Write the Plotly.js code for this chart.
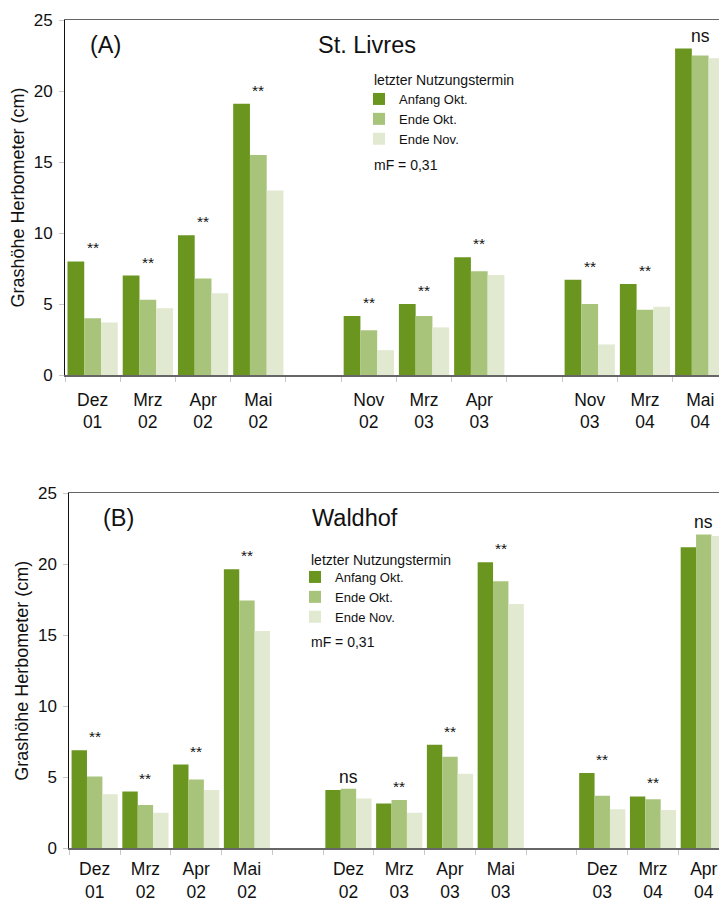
<!DOCTYPE html>
<html>
<head>
<meta charset="utf-8">
<script src="https://cdn.plot.ly/plotly-3.0.1.min.js"></script>
<style>html,body{margin:0;padding:0;background:#fff;}#chart{width:719px;height:903px;}</style>
</head>
<body>
<div id="chart"></div>
<script>
// ---- Data ----
const seriesNames = ["Anfang Okt.", "Ende Okt.", "Ende Nov."];

// Panel A: St. Livres (gap slots are blank strings)
const catsA = ["Dez<br>01", "Mrz<br>02", "Apr<br>02", "Mai<br>02", " ",
               "Nov<br>02", "Mrz<br>03", "Apr<br>03", "  ",
               "Nov<br>03", "Mrz<br>04", "Mai<br>04"];
const anfangOktA = [8.0, 7.0, 9.85, 19.1, null, 4.15, 5.0, 8.3, null, 6.7, 6.4, 23.0];
const endeOktA   = [4.0, 5.3, 6.8, 15.5, null, 3.15, 4.15, 7.3, null, 5.0, 4.6, 22.5];
const endeNovA   = [3.7, 4.7, 5.75, 13.0, null, 1.75, 3.35, 7.05, null, 2.15, 4.8, 22.3];
const sigA       = ["**", "**", "**", "**", "", "**", "**", "**", "", "**", "**", "ns"];

// Panel B: Waldhof
const catsB = ["Dez<br>01", "Mrz<br>02", "Apr<br>02", "Mai<br>02", " ",
               "Dez<br>02", "Mrz<br>03", "Apr<br>03", "Mai<br>03", "  ",
               "Dez<br>03", "Mrz<br>04", "Apr<br>04"];
const anfangOktB = [6.9, 4.0, 5.9, 19.65, null, 4.1, 3.15, 7.3, 20.15, null, 5.3, 3.65, 21.2];
const endeOktB   = [5.05, 3.05, 4.85, 17.45, null, 4.2, 3.4, 6.45, 18.8, null, 3.7, 3.45, 22.1];
const endeNovB   = [3.8, 2.5, 4.1, 15.3, null, 3.5, 2.5, 5.25, 17.2, null, 2.75, 2.7, 22.0];
const sigB       = ["**", "**", "**", "**", "", "ns", "**", "**", "**", "", "**", "**", "ns"];

const yTickVals = [0, 5, 10, 15, 20, 25];

// ---- Styling ----
const colors = ["#6A961F", "#A8C37A", "#E1E9D1"];
const FONT = "Liberation Sans, Arial, Helvetica, sans-serif";
const W = 719, H = 903;

function bars(cats, arrs, xa, ya, legendId) {
  return arrs.map((vals, i) => ({
    type: "bar", x: cats, y: vals, name: seriesNames[i],
    xaxis: xa, yaxis: ya, legend: legendId,
    marker: {color: colors[i], line: {width: 0}},
    hoverinfo: "x+y"
  }));
}

const traces = [
  ...bars(catsA, [anfangOktA, endeOktA, endeNovA], "x", "y", "legend"),
  ...bars(catsB, [anfangOktB, endeOktB, endeNovB], "x2", "y2", "legend2")
];

function sigAnnots(cats, arrs, sig, xref, yref) {
  const out = [];
  cats.forEach((c, i) => {
    if (!sig[i]) return;
    const top = Math.max(...arrs.map(a => a[i] || 0));
    const isNs = sig[i] === "ns";
    out.push({
      x: c, y: top, xref: xref, yref: yref, text: sig[i], showarrow: false,
      yanchor: "bottom", yshift: isNs ? 0 : 3,
      font: {family: FONT, size: isNs ? 17.5 : 15.5, color: "#111"}
    });
  });
  return out;
}

const axisX = (domainLeftPx, nRange, standoff) => ({
  type: "category",
  domain: [domainLeftPx / W, 1],
  range: [-0.5, nRange],
  showline: true, linecolor: "#666", linewidth: 1.5, mirror: true,
  ticks: "outside", tickson: "boundaries", ticklen: 5, tickcolor: "#c8c8c8", tickwidth: 1,
  ticklabelstandoff: standoff,
  tickfont: {family: FONT, size: 17.5, color: "#111"},
  showgrid: false, zeroline: false, fixedrange: true, automargin: false
});

const axisY = (d0, d1, anchor) => ({
  domain: [1 - d1 / H, 1 - d0 / H],
  anchor: anchor,
  range: [0, 25], tickvals: yTickVals,
  showline: true, linecolor: "#111", linewidth: 1,
  ticks: "outside", ticklen: 5, tickcolor: "#c8c8c8", tickwidth: 1,
  ticklabelstandoff: 3,
  tickfont: {family: FONT, size: 17, color: "#111"},
  showgrid: false, zeroline: false, fixedrange: true, automargin: false,
  title: {text: "Grashöhe Herbometer (cm)", font: {family: FONT, size: 18, color: "#111"}, standoff: 4}
});

const legendStyle = (xPx, yPx) => ({
  x: xPx / W, y: 1 - yPx / H, xanchor: "left", yanchor: "top",
  bgcolor: "rgba(0,0,0,0)", borderwidth: 0,
  font: {family: FONT, size: 13, color: "#111"},
  itemwidth: 30, tracegroupgap: 0, traceorder: "normal"
});

const textAnn = (text, xPx, yPx, size, anchor) => ({
  text: text, x: xPx / W, y: 1 - yPx / H, xref: "paper", yref: "paper",
  xanchor: anchor || "center", yanchor: "middle", showarrow: false,
  font: {family: FONT, size: size, color: "#111"}
});

const layout = {
  width: W, height: H,
  margin: {l: 0, r: 0, t: 0, b: 0},
  paper_bgcolor: "#fff", plot_bgcolor: "#fff",
  bargap: 0.09, bargroupgap: 0, barmode: "group",
  showlegend: true,
  xaxis: Object.assign(axisX(65, 11.34, 8), {anchor: "y"}),
  yaxis: axisY(20, 375, "x"),
  xaxis2: Object.assign(axisX(69.3, 12.3, 4), {anchor: "y2"}),
  yaxis2: axisY(493.3, 848.3, "x2"),
  legend: legendStyle(359, 84),
  legend2: legendStyle(295, 562),
  annotations: [
    textAnn("(A)", 105, 45, 23.5),
    textAnn("St. Livres", 367, 45, 23.5),
    textAnn("(B)", 119, 518, 23.5),
    textAnn("Waldhof", 355, 518, 23.5),
    textAnn("letzter Nutzungstermin", 372, 80, 14, "left"),
    textAnn("letzter Nutzungstermin", 309, 560, 14, "left"),
    textAnn("mF = 0,31", 372, 165, 14, "left"),
    textAnn("mF = 0,31", 309, 642, 14, "left"),
    ...sigAnnots(catsA, [anfangOktA, endeOktA, endeNovA], sigA, "x", "y"),
    ...sigAnnots(catsB, [anfangOktB, endeOktB, endeNovB], sigB, "x2", "y2")
  ]
};

Plotly.newPlot("chart", traces, layout, {displayModeBar: false, staticPlot: true});
</script>
</body>
</html>
